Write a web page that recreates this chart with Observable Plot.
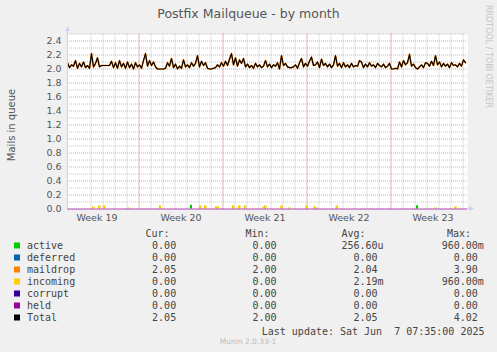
<!DOCTYPE html>
<html><head><meta charset="utf-8">
<script src="https://cdn.jsdelivr.net/npm/d3@7"></script>
<script src="https://cdn.jsdelivr.net/npm/@observablehq/plot@0.6"></script>
<style>
html,body{margin:0;padding:0;background:#f0f0f0;}
#chart{width:497px;height:352px;overflow:hidden;}
svg{display:block;}
</style></head><body><div id="chart"></div>
<script>
const title = "Postfix Mailqueue - by month";
const yLabel = "Mails in queue";
const sideText = "RRDTOOL / TOBI OETIKER";
const footer = "Munin 2.0.33-1";
const lastUpdate = "Last update: Sat Jun  7 07:35:00 2025";

const startTime = "2025-05-06T01:00:00Z";
const endTime = "2025-06-08T09:00:00Z";
const stepHours = 4;

// Total (and maildrop) queue size, one value every 4 hours
const total = [
  2.09,2.02,2.06,2.04,2.12,2.01,2.08,2.03,2.10,2.02,2.05,2.01,2.22,2.03,2.08,2.16,2.03,2.05,2.05,2.05,
  2.05,2.05,2.11,2.02,2.09,2.01,2.12,2.03,2.08,2.01,2.10,2.02,2.07,2.00,2.09,2.03,2.06,2.01,2.12,2.22,
  2.04,2.12,2.05,2.10,2.03,2.00,2.00,2.00,2.00,2.01,2.09,2.04,2.15,2.02,2.07,2.00,2.04,2.01,2.13,2.03,
  2.06,2.02,2.09,2.04,2.08,2.19,2.03,2.11,2.05,2.09,2.01,2.00,2.00,2.01,2.02,2.06,2.03,2.09,2.04,2.11,
  2.05,2.14,2.22,2.06,2.16,2.04,2.13,2.08,2.15,2.03,2.07,2.02,2.05,2.01,2.08,2.03,2.06,2.02,2.04,2.12,
  2.03,2.07,2.02,2.06,2.04,2.09,2.00,2.19,2.05,2.08,2.03,2.02,2.02,2.03,2.06,2.01,2.09,2.15,2.03,2.08,
  2.04,2.11,2.17,2.05,2.06,2.10,2.02,2.14,2.05,2.08,2.03,2.07,2.02,2.06,2.19,2.04,2.08,2.02,2.09,2.03,
  2.06,2.02,2.08,2.03,2.05,2.04,2.12,2.10,2.02,2.07,2.03,2.09,2.04,2.06,2.02,2.08,2.05,2.03,2.07,2.02,
  2.04,2.08,2.00,2.00,2.01,2.00,2.10,2.03,2.12,2.06,2.09,2.21,2.04,2.07,2.02,2.00,2.03,2.06,2.02,2.09,
  2.08,2.04,2.11,2.05,2.19,2.06,2.10,2.03,2.08,2.04,2.07,2.02,2.09,2.05,2.06,2.03,2.08,2.04,2.13,2.09
];
const maildrop = total;

const incomingTimes = [
  "2025-05-08T04:30Z","2025-05-08T16:30Z","2025-05-09T02:30Z","2025-05-11T02:30Z","2025-05-13T18:00Z",
  "2025-05-17T02:30Z","2025-05-17T12:30Z","2025-05-18T10:00Z","2025-05-18T13:30Z","2025-05-19T20:30Z",
  "2025-05-20T08:30Z","2025-05-20T20:00Z","2025-05-22T09:30Z","2025-05-22T12:30Z","2025-05-23T21:00Z",
  "2025-05-24T12:30Z","2025-05-25T23:00Z","2025-05-26T15:00Z","2025-05-26T19:30Z","2025-05-28T11:30Z",
  "2025-06-05T16:30Z","2025-06-07T09:00Z"
];
const incomingValues = [
  0.03,0.045,0.045,0.015,0.045,
  0.045,0.045,0.03,0.03,0.045,
  0.045,0.045,0.03,0.045,0.045,
  0.015,0.045,0.03,0.015,0.045,
  0.015,0.03
];
const activeTimes = ["2025-05-16T08:00Z","2025-06-04T04:00Z"];
const activeValues = [0.055,0.045];
const heldLevel = [0];

const yTicks = [0,0.2,0.4,0.6,0.8,1.0,1.2,1.4,1.6,1.8,2.0,2.2,2.4];
const yTickLabels = ["0.0","0.2","0.4","0.6","0.8","1.0","1.2","1.4","1.6","1.8","2.0","2.2","2.4"];
const yMinorTicks = [0.1,0.3,0.5,0.7,0.9,1.1,1.3,1.5,1.7,1.9,2.1,2.3,2.5];
const weekStarts = ["2025-05-12T00:00Z","2025-05-19T00:00Z","2025-05-26T00:00Z","2025-06-02T00:00Z"];
const weekMids = ["2025-05-08T12:00Z","2025-05-15T12:00Z","2025-05-22T12:00Z","2025-05-29T12:00Z","2025-06-05T12:00Z"];
const weekLabels = ["Week 19","Week 20","Week 21","Week 22","Week 23"];

const seriesNames = ["active","deferred","maildrop","incoming","corrupt","held","Total"];
const seriesColors = ["#00cc00","#0066b3","#ff8000","#ffcc00","#330099","#990099","#000000"];
const curValues = ["0.00","0.00","2.05","0.00","0.00","0.00","2.05"];
const minValues = ["0.00","0.00","2.00","0.00","0.00","0.00","2.00"];
const avgValues = ["256.60u","0.00","2.04","2.19m","0.00","0.00","2.05"];
const maxValues = ["960.00m","0.00","3.90","960.00m","0.00","0.00","4.02"];
const legendHeaders = ["Cur:","Min:","Avg:","Max:"];

// ---- build tables ----
const t0 = +new Date(startTime);
const totalData = total.map((v, i) => ({t: new Date(t0 + i * stepHours * 3600e3), v}));
const maildropData = maildrop.map((v, i) => ({t: new Date(t0 + i * stepHours * 3600e3), v}));
const incomingData = incomingTimes.map((t, i) => ({t: new Date(t), v: incomingValues[i]}));
const activeData = activeTimes.map((t, i) => ({t: new Date(t), v: activeValues[i]}));
const dayLines = d3.utcDay.range(new Date(startTime), new Date(endTime)).slice(1);
const weekData = weekMids.map((t, i) => ({t: new Date(t), label: weekLabels[i], y: 0}));

const minorGrid = "#c4c4c4";
const majorGrid = "#f09a9a";
const axisColor = "#c8d0f8";

const W = 497, H = 352, ML = 67, MR = 30, MT = 33.5, MB = 143.5;

const chart = Plot.plot({
  width: W, height: H,
  marginLeft: ML, marginRight: MR, marginTop: MT, marginBottom: MB,
  x: {type: "utc", domain: [new Date(startTime), new Date(endTime)], axis: null},
  y: {domain: [0, 2.5], axis: null},
  style: {background: "#f0f0f0", fontFamily: "'DejaVu Sans', sans-serif", color: "#555", overflow: "visible"},
  marks: [
    Plot.frame({fill: "white", stroke: null}),
    Plot.ruleY(yMinorTicks, {stroke: minorGrid, strokeDasharray: "1,1"}),
    Plot.ruleX(dayLines, {stroke: minorGrid, strokeDasharray: "1,1"}),
    Plot.ruleY(yTicks.filter(d => d > 0), {stroke: majorGrid, strokeDasharray: "1,1"}),
    Plot.ruleX(weekStarts.map(d => new Date(d)), {stroke: majorGrid, strokeDasharray: "1,1"}),
    Plot.axisY({ticks: yTicks, tickFormat: d => yTickLabels[yTicks.indexOf(d)], tickSize: 0, tickPadding: 6, fontSize: 9.5, fill: "#555"}),
    Plot.text(weekData, {x: "t", y: "y", text: "label", dy: 8.5, fontSize: 9.5, fill: "#555"}),
    Plot.ruleX(incomingData, {x: "t", y1: 0, y2: "v", stroke: "#ffcc00", strokeWidth: 2.5}),
    Plot.ruleX(activeData, {x: "t", y1: 0, y2: "v", stroke: "#00cc00", strokeWidth: 2}),
    Plot.ruleY(heldLevel, {stroke: "#990099", strokeOpacity: 0.5, strokeWidth: 1.5}),
    Plot.lineY(maildropData, {x: "t", y: "v", stroke: "#ff8000", strokeWidth: 1.6}),
    Plot.lineY(totalData, {x: "t", y: "v", stroke: "#000", strokeWidth: 1.15})
  ]
});
document.getElementById("chart").appendChild(chart);

const svg = d3.select(chart);
const y0 = 208.5, xEnd = W - MR;
// axis lines with arrows
const ax = svg.append("g");
ax.append("line").attr("x1", ML + 0.5).attr("x2", ML + 0.5).attr("y1", y0).attr("y2", 29).attr("stroke", axisColor);
ax.append("path").attr("d", `M${ML - 2},${31}L${ML + 3},${31}L${ML + 0.5},${26}Z`).attr("fill", axisColor);
ax.append("line").attr("x1", xEnd).attr("x2", xEnd + 3).attr("y1", y0).attr("y2", y0).attr("stroke", axisColor);
ax.append("path").attr("d", `M${xEnd + 2},${y0 - 2.5}L${xEnd + 2},${y0 + 2.5}L${xEnd + 7},${y0}Z`).attr("fill", axisColor);

// title and labels
svg.append("text").attr("x", 248.5).attr("y", 18).attr("text-anchor", "middle")
  .attr("font-family", "'DejaVu Sans'").attr("font-size", 12.5).attr("fill", "#555").text(title);
svg.append("text").attr("transform", "translate(11,125) rotate(-90)").attr("text-anchor", "middle")
  .attr("dominant-baseline", "central").attr("font-family", "'DejaVu Sans'").attr("font-size", 10)
  .attr("fill", "#555").text(yLabel);
svg.append("text").attr("transform", "translate(488.5,5) rotate(90)").attr("text-anchor", "start")
  .attr("dominant-baseline", "central").attr("font-family", "'DejaVu Sans'").attr("font-size", 8)
  .attr("fill", "#c4c4c4").text(sideText);

// legend
const lg = svg.append("g").attr("font-family", "'DejaVu Sans Mono', monospace").attr("font-size", 10)
  .attr("fill", "#444").attr("text-anchor", "start");
const headerX = [145.5, 245.5, 341.5, 447];
legendHeaders.forEach((h, i) => lg.append("text").attr("x", headerX[i]).attr("y", 237.3).attr("text-anchor", "start").text(h));
const colRight = [182.2, 282.6, 383.6, 483.8];
const cols = [curValues, minValues, avgValues, maxValues];
const fmt = v => /[a-zA-Z]$/.test(v) ? v : v + "\u00a0";
seriesNames.forEach((name, r) => {
  const yb = 249.3 + 12 * r;
  lg.append("rect").attr("x", 14).attr("y", 242.5 + 12 * r).attr("width", 6).attr("height", 6).attr("fill", seriesColors[r]);
  lg.append("text").attr("x", 27).attr("y", yb).attr("text-anchor", "start").text(name);
  cols.forEach((c, k) => lg.append("text").attr("x", colRight[k]).attr("y", yb).attr("text-anchor", "end").text(fmt(c[r])));
});
lg.append("text").attr("x", 484.5).attr("y", 334.6).attr("text-anchor", "end").style("white-space", "pre").text(lastUpdate);
svg.append("text").attr("x", 248).attr("y", 343.8).attr("text-anchor", "middle").attr("font-family", "'DejaVu Sans'")
  .attr("font-size", 7.5).attr("fill", "#bbb").text(footer);
</script></body></html>
